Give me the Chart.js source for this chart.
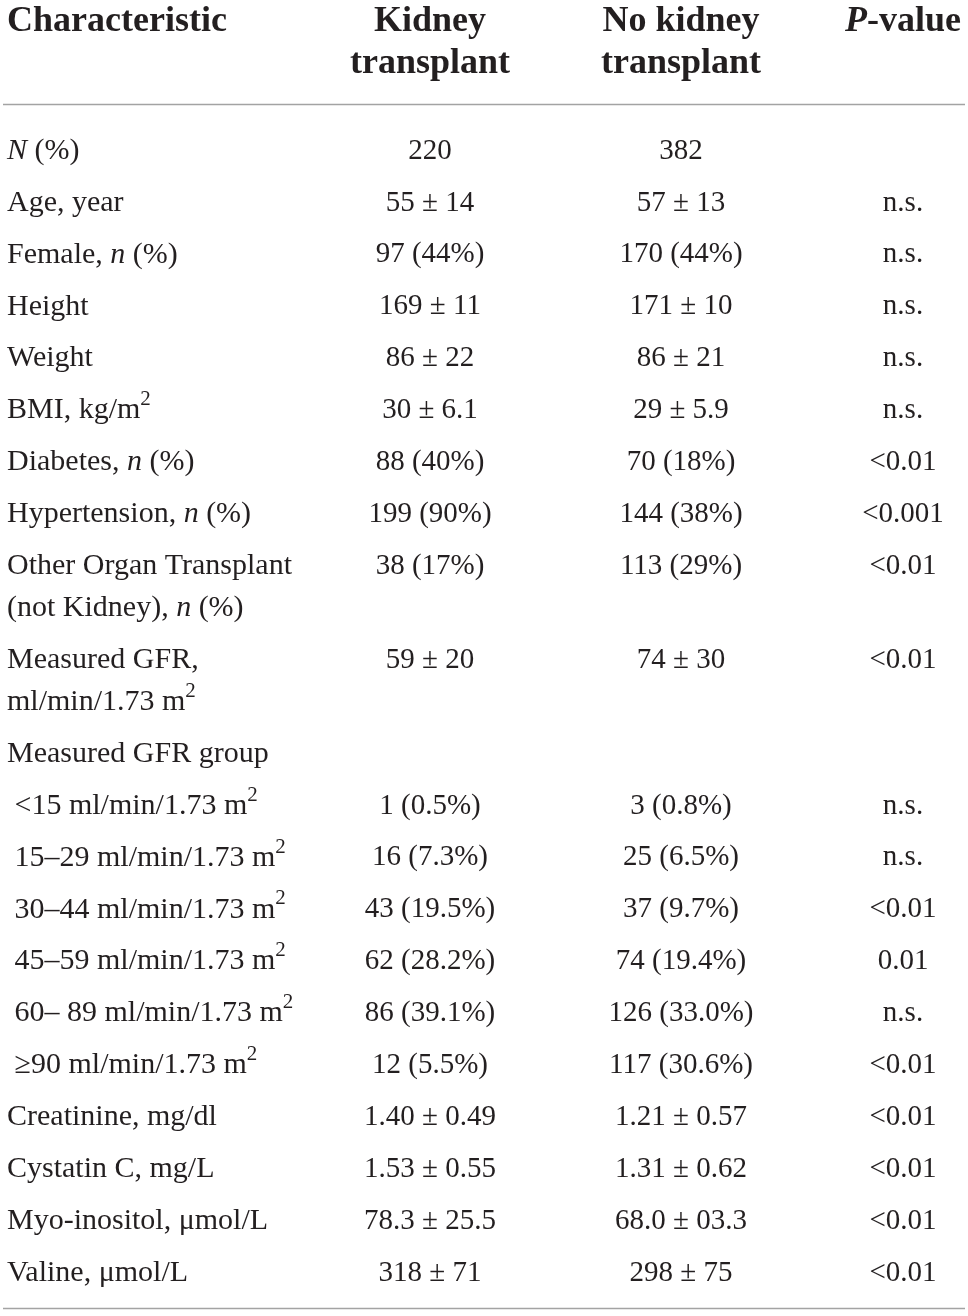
<!DOCTYPE html>
<html>
<head>
<meta charset="utf-8">
<script src="https://cdn.jsdelivr.net/npm/chart.js@4.4.1/dist/chart.umd.min.js"></script>
<style>
  html, body { margin: 0; background: #fff; }
  #wrap { width: 968px; height: 1316px; }
</style>
</head>
<body>
<div id="wrap"><canvas id="table"></canvas></div>
<script>
// *x* = italic, ^x = superscript
const columnHeaders = [['Characteristic'], ['Kidney', 'transplant'], ['No kidney', 'transplant'], ['*P*-value']];
const characteristics = [
  ['*N* (%)'],
  ['Age, year'],
  ['Female, *n* (%)'],
  ['Height'],
  ['Weight'],
  ['BMI, kg/m^2'],
  ['Diabetes, *n* (%)'],
  ['Hypertension, *n* (%)'],
  ['Other Organ Transplant', '(not Kidney), *n* (%)'],
  ['Measured GFR,', 'ml/min/1.73 m^2'],
  ['Measured GFR group'],
  [' <15 ml/min/1.73 m^2'],
  [' 15\u201329 ml/min/1.73 m^2'],
  [' 30\u201344 ml/min/1.73 m^2'],
  [' 45\u201359 ml/min/1.73 m^2'],
  [' 60\u2013 89 ml/min/1.73 m^2'],
  [' \u226590 ml/min/1.73 m^2'],
  ['Creatinine, mg/dl'],
  ['Cystatin C, mg/L'],
  ['Myo-inositol, \u03bcmol/L'],
  ['Valine, \u03bcmol/L']
];
const kidneyTransplant = ['220', '55 \u00b1 14', '97 (44%)', '169 \u00b1 11', '86 \u00b1 22', '30 \u00b1 6.1', '88 (40%)', '199 (90%)',
  '38 (17%)', '59 \u00b1 20', '', '1 (0.5%)', '16 (7.3%)', '43 (19.5%)', '62 (28.2%)', '86 (39.1%)', '12 (5.5%)',
  '1.40 \u00b1 0.49', '1.53 \u00b1 0.55', '78.3 \u00b1 25.5', '318 \u00b1 71'];
const noKidneyTransplant = ['382', '57 \u00b1 13', '170 (44%)', '171 \u00b1 10', '86 \u00b1 21', '29 \u00b1 5.9', '70 (18%)', '144 (38%)',
  '113 (29%)', '74 \u00b1 30', '', '3 (0.8%)', '25 (6.5%)', '37 (9.7%)', '74 (19.4%)', '126 (33.0%)', '117 (30.6%)',
  '1.21 \u00b1 0.57', '1.31 \u00b1 0.62', '68.0 \u00b1 03.3', '298 \u00b1 75'];
const pValues = ['', 'n.s.', 'n.s.', 'n.s.', 'n.s.', 'n.s.', '<0.01', '<0.001',
  '<0.01', '<0.01', '', 'n.s.', 'n.s.', '<0.01', '0.01', 'n.s.', '<0.01',
  '<0.01', '<0.01', '<0.01', '<0.01'];

// layout
const ROW_PX = 51.9;          // one row step
const LINE_STEP = 42 / ROW_PX; // extra line inside a cell
const FIRST_ROW_PX = 151;
const colX = [7, 430, 681, 903];
const colAlign = ['left', 'center', 'center', 'center'];
const colSize = [30, 29, 29, 29];
const TEXT = '#231f20';
const FONT = '"Liberation Serif", "DejaVu Serif", serif';
const HEAD_SIZE = 36;

// row positions in "row units" (extra lines push following rows down)
const rowPos = [];
let extra = 0;
characteristics.forEach((lines, i) => {
  rowPos.push(i + extra);
  extra += (lines.length - 1) * LINE_STEP;
});
const headerPos = [(22 - FIRST_ROW_PX) / ROW_PX, (64 - FIRST_ROW_PX) / ROW_PX];
const rulePos = [(104 - FIRST_ROW_PX) / ROW_PX, (1308 - FIRST_ROW_PX) / ROW_PX];

const columns = [characteristics, kidneyTransplant, noKidneyTransplant, pValues];
const datasets = columns.map((col, c) => ({
  label: 'col' + c,
  data: rowPos.map(y => ({ x: colX[c], y: y })),
  texts: col,
  pointRadius: 0,
  pointHoverRadius: 0,
  showLine: false
}));

function parseRich(s) {
  const segs = [];
  let i = 0, buf = '', italic = false;
  while (i < s.length) {
    const ch = s[i];
    if (ch === '*') {
      if (buf) segs.push({ t: buf, italic, sup: false });
      buf = ''; italic = !italic; i++;
    } else if (ch === '^') {
      if (buf) segs.push({ t: buf, italic, sup: false });
      buf = '';
      segs.push({ t: s[i + 1], italic, sup: true });
      i += 2;
    } else { buf += ch; i++; }
  }
  if (buf) segs.push({ t: buf, italic, sup: false });
  return segs;
}

function segFont(seg, size, bold) {
  const sz = seg.sup ? Math.round(size * 0.7) : size;
  return (seg.italic ? 'italic ' : '') + (bold ? 'bold ' : '') + sz + 'px ' + FONT;
}

function drawRich(ctx, s, x, y, align, size, bold) {
  const segs = parseRich(s);
  let w = 0;
  segs.forEach(seg => { ctx.font = segFont(seg, size, bold); seg.w = ctx.measureText(seg.t).width; w += seg.w; });
  let cx = align === 'center' ? x - w / 2 : align === 'right' ? x - w : x;
  ctx.textAlign = 'left';
  ctx.textBaseline = 'middle';
  segs.forEach(seg => {
    ctx.font = segFont(seg, size, bold);
    ctx.fillText(seg.t, cx, seg.sup ? y - size * 0.36 : y);
    cx += seg.w;
  });
}

const tableText = {
  id: 'tableText',
  afterDatasetsDraw(chart) {
    const ctx = chart.ctx;
    const ys = chart.scales.y, xs = chart.scales.x;
    ctx.save();
    ctx.fillStyle = TEXT;
    // header
    columnHeaders.forEach((lines, c) => {
      lines.forEach((line, l) => {
        drawRich(ctx, line, xs.getPixelForValue(colX[c]), ys.getPixelForValue(headerPos[l]), colAlign[c], HEAD_SIZE, true);
      });
    });
    // rules
    ctx.strokeStyle = '#a3a3a3';
    ctx.lineWidth = 1.5;
    rulePos.forEach(p => {
      const py = Math.round(ys.getPixelForValue(p)) + 0.5;
      ctx.beginPath();
      ctx.moveTo(xs.getPixelForValue(3), py);
      ctx.lineTo(xs.getPixelForValue(965), py);
      ctx.stroke();
    });
    // body cells
    chart.data.datasets.forEach((ds, c) => {
      const meta = chart.getDatasetMeta(c);
      meta.data.forEach((pt, r) => {
        const cell = ds.texts[r];
        const lines = Array.isArray(cell) ? cell : [cell];
        lines.forEach((line, l) => {
          if (!line) return;
          const py = ys.getPixelForValue(rowPos[r] + l * LINE_STEP);
          drawRich(ctx, line, pt.x, py, colAlign[c], colSize[c], false);
        });
      });
    });
    ctx.restore();
  }
};

new Chart(document.getElementById('table'), {
  type: 'scatter',
  data: { datasets: datasets },
  options: {
    responsive: true,
    maintainAspectRatio: false,
    animation: false,
    layout: { padding: 0 },
    events: [],
    plugins: { legend: { display: false }, tooltip: { enabled: false } },
    scales: {
      x: { type: 'linear', display: false, min: 0, max: 968 },
      y: { type: 'linear', display: false, reverse: true,
           min: -FIRST_ROW_PX / ROW_PX, max: (1316 - FIRST_ROW_PX) / ROW_PX }
    }
  },
  plugins: [tableText]
});
</script>
</body>
</html>
